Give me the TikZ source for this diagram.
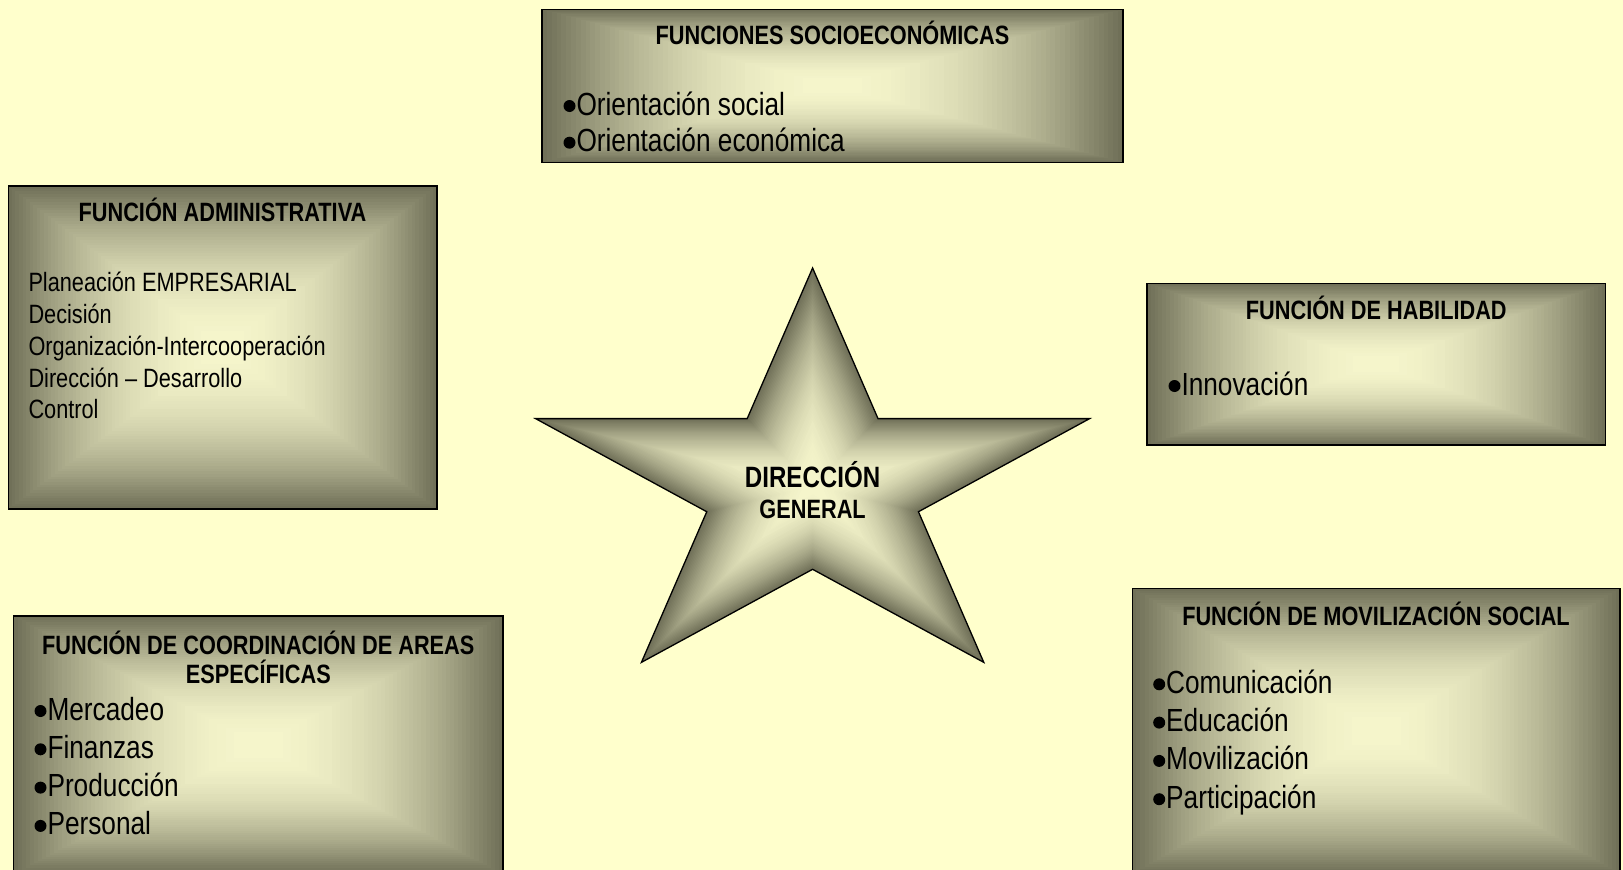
\documentclass[tikz,border=0pt]{standalone}
\usepackage{fontspec}
\setmainfont{Liberation Sans}[FakeStretch=0.82]
\definecolor{bgc}{RGB}{255,255,204}
\definecolor{gd}{RGB}{112,112,88}
\definecolor{gl}{RGB}{246,246,204}
\newcommand\bul{\tikz[baseline=0pt,x=1pt,y=1pt]\fill[black] (6,9) circle (6);\hspace{1pt}}
\tikzset{
  frame/.style={draw=black, line width=1.5pt, fill=none, inner sep=0pt},
  ttl/.style={font=\bfseries\fontsize{26.5}{30}\selectfont, inner sep=0pt, anchor=base},
  itm/.style={font=\fontsize{32}{38}\selectfont, inner sep=0pt, anchor=base west},
  sitm/.style={font=\fontsize{26.5}{31}\selectfont, inner sep=0pt, anchor=base west},
}
\begin{document}
\begin{tikzpicture}[x=1pt,y=-1pt]
\fill[bgc] (0,0) rectangle (1623,870);
\useasboundingbox (0,0) rectangle (1623,870);
\begin{scope}
\clip (0,0) rectangle (1623,870);
% rectangular "from centre" gradients
\foreach \xa/\ya/\xb/\yb in {542/9.3/1123/162.3, 8.3/186/436.8/509, 1147/283.3/1605.5/445, 13.5/616/503/874, 1132.3/588.3/1620/874}{
  \pgfmathsetmacro\gcx{(\xa+\xb)/2}
  \pgfmathsetmacro\gcy{(\ya+\yb)/2}
  \pgfmathsetmacro\ghw{(\xb-\xa)/2}
  \pgfmathsetmacro\ghh{(\yb-\ya)/2}
  \foreach \i in {0,...,59}{
    \pgfmathsetmacro\gs{1-\i/60}
    \pgfmathtruncatemacro\gp{100*(1-\gs*\gs)}
    \fill[gl!\gp!gd] ({\gcx-\gs*\ghw},{\gcy-\gs*\ghh}) rectangle ({\gcx+\gs*\ghw},{\gcy+\gs*\ghh});
  }
}
\node[frame, minimum width=581pt, minimum height=153pt] (se) at (832.5,85.8) {};
\node[frame, minimum width=428.5pt, minimum height=323pt] (ad) at (222.55,347.5) {};
\node[frame, minimum width=458.5pt, minimum height=161.7pt] (hb) at (1376.25,364.15) {};
\node[frame, minimum width=489.5pt, minimum height=258pt] (co) at (258.25,745) {};
\node[frame, minimum width=487.7pt, minimum height=285.7pt] (mv) at (1376.15,731.15) {};
\end{scope}
% star
\begin{scope}[shift={(812.6,486)}, xscale=1.336]
  \foreach \i in {0,...,59}{
    \pgfmathsetmacro\gs{1-\i/60}
    \pgfmathtruncatemacro\gp{100*(1-\gs*\gs)}
    \pgfmathsetmacro\gR{218*\gs}
    \pgfmathsetmacro\gr{83.3*\gs}
    \fill[gl!\gp!gd] (-90:\gR) -- (-54:\gr) -- (-18:\gR) -- (18:\gr) -- (54:\gR) -- (90:\gr) -- (126:\gR) -- (162:\gr) -- (198:\gR) -- (234:\gr) -- cycle;
  }
  \draw[line width=1.3pt, line join=miter] (-90:218) -- (-54:83.3) -- (-18:218) -- (18:83.3) -- (54:218) -- (90:83.3) -- (126:218) -- (162:83.3) -- (198:218) -- (234:83.3) -- cycle;
\end{scope}
% texts
\node[ttl] (se-t) at (832.5,44.3) {FUNCIONES SOCIOECONÓMICAS};
\node[itm] (se-1) at (563.3,115) {\bul Orientación social};
\node[itm] (se-2) at (563.3,151.7) {\bul Orientación económica};

\node[ttl] (ad-t) at (222.5,221.7) {FUNCIÓN ADMINISTRATIVA};
\foreach \t [count=\k] in {Planeación EMPRESARIAL, Decisión, Organización-Intercooperación, Dirección – Desarrollo, Control}
  \node[sitm] (ad-\k) at (28.3,{291.7+31.8*(\k-1)}) {\t};

\node[ttl] (hb-t) at (1376.3,319.3) {FUNCIÓN DE HABILIDAD};
\node[itm] (hb-1) at (1168.3,395) {\bul Innovación};

\node[ttl] (co-t1) at (258.3,654.3) {FUNCIÓN DE COORDINACIÓN DE AREAS};
\node[ttl] (co-t2) at (258.3,683.3) {ESPECÍFICAS};
\foreach \t [count=\k] in {Mercadeo, Finanzas, Producción, Personal}
  \node[itm] (co-\k) at (34.3,{720+38.3*(\k-1)}) {\bul \t};

\node[ttl] (mv-t) at (1376,625) {FUNCIÓN DE MOVILIZACIÓN SOCIAL};
\foreach \t [count=\k] in {Comunicación, Educación, Movilización, Participación}
  \node[itm] (mv-\k) at (1153,{693.3+38.3*(\k-1)}) {\bul \t};

\node[ttl, font=\bfseries\fontsize{29.4}{32}\selectfont] (dg-1) at (812.6,487) {DIRECCIÓN};
\node[ttl] (dg-2) at (812.6,518) {GENERAL};
\end{tikzpicture}
\end{document}
